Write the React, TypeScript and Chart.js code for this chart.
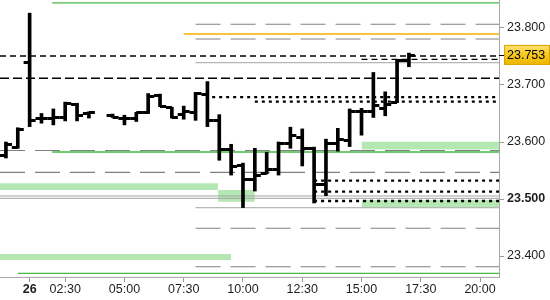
import React, { useEffect, useRef } from 'react';
import { Chart, registerables } from 'chart.js';

Chart.register(...registerables);

// ---- data ----
const barTimes = [0, 0.5, 1, 1.5, 2, 2.5, 3, 3.5, 4.5, 5, 5.5, 6, 6.5, 7, 7.5, 8, 8.5, 9, 9.5, 10, 10.5, 11, 11.5, 12, 12.5, 13, 13.5, 14, 14.5, 15, 15.5, 16, 16.5, 17];
const opens = [23.577, 23.591, 23.740, 23.642, 23.642, 23.643, 23.667, 23.651,
  23.648, 23.642, 23.642, 23.652, 23.682, 23.661, 23.650, 23.653, 23.684, 23.639, 23.588, 23.560, 23.535, 23.546, 23.552, 23.599, 23.609, 23.589, 23.526, 23.598, 23.604, 23.655, 23.654, 23.660, 23.670, 23.743];
const highs = [23.600, 23.625, 23.826, 23.650, 23.658, 23.670, 23.668, 23.653,
  23.649, 23.647, 23.652, 23.685, 23.684, 23.661, 23.663, 23.687, 23.706, 23.648, 23.596, 23.563, 23.589, 23.582, 23.600, 23.626, 23.623, 23.591, 23.605, 23.624, 23.658, 23.659, 23.722, 23.688, 23.745, 23.756];
const lows = [23.572, 23.589, 23.627, 23.633, 23.630, 23.637, 23.637, 23.642,
  23.643, 23.630, 23.636, 23.650, 23.662, 23.642, 23.640, 23.638, 23.627, 23.568, 23.542, 23.485, 23.514, 23.544, 23.542, 23.589, 23.558, 23.493, 23.506, 23.584, 23.592, 23.612, 23.643, 23.646, 23.669, 23.732];
const closes = [23.596, 23.623, 23.639, 23.642, 23.643, 23.668, 23.647, 23.652,
  23.644, 23.642, 23.652, 23.681, 23.664, 23.643, 23.655, 23.686, 23.639, 23.588, 23.558, 23.535, 23.543, 23.552, 23.598, 23.612, 23.590, 23.526, 23.598, 23.605, 23.654, 23.654, 23.665, 23.667, 23.743, 23.753];

const X_MIN = -0.25;
const X_MAX = 20.8;
const Y_MIN = 23.3632;
const Y_MAX = 23.8491;

const xTickValues = [1, 2.5, 5, 7.5, 10, 12.5, 15, 17.5, 20];
const xTickLabels = ['26', '02:30', '05:00', '07:30', '10:00', '12:30', '15:00', '17:30', '20:00'];
const yTickValues = [23.4, 23.5, 23.6, 23.7, 23.8];

// horizontal levels
const levelValues = [23.8439, 23.8065, 23.7895, 23.7807, 23.7509, 23.7451, 23.7391, 23.7118, 23.6789, 23.6707, 23.5851, 23.5825, 23.5468, 23.5321, 23.5128, 23.5053, 23.5012, 23.4965, 23.4847, 23.4486, 23.3812, 23.3696];
const levelFrom = [1.95, 8.0, 7.5, 8.0, X_MIN, 15.0, 8.0, X_MIN, 8.7, 10.5, X_MIN, 1.95, X_MIN, 13.0, 13.0, X_MIN, X_MIN, 13.0, 8.0, 8.0, 8.0, 0.5];
const levelTo = levelValues.map(() => X_MAX);
const levelKinds = ['green', 'grayDash', 'orange', 'grayDash', 'blackDashShort', 'blackDashShort', 'graySolid', 'blackDashLong', 'dotted', 'dotted', 'grayDash', 'green', 'grayDash', 'dotted', 'dotted', 'graySolid', 'graySolid', 'dotted', 'graySolid', 'grayDash', 'grayDash', 'green'];

// zones (bands)
const zoneTop = [23.6005, 23.5275, 23.5158, 23.4982, 23.4035];
const zoneBottom = [23.5868, 23.5158, 23.4953, 23.4854, 23.3930];
const zoneFrom = [15.0, X_MIN, 8.95, 15.0, X_MIN];
const zoneTo = [X_MAX, 8.95, 10.5, X_MAX, 9.5];

const lastPrice = closes[closes.length - 1];

// ---- styles ----
const FONT = 'Liberation Sans';
const kindStyle: Record<string, { color: string; width: number; dash: number[] }> = {
  green: { color: '#46b946', width: 1.3, dash: [] },
  orange: { color: '#f5b000', width: 1.3, dash: [] },
  grayDash: { color: '#808080', width: 1.1, dash: [25, 10] },
  graySolid: { color: '#a4a4a4', width: 1, dash: [] },
  blackDashShort: { color: '#000000', width: 1.3, dash: [6, 4] },
  blackDashLong: { color: '#000000', width: 1.3, dash: [9, 4] },
  dotted: { color: '#000000', width: 2.3, dash: [3, 4] },
};
const ZONE_COLOR = 'rgb(181,231,178)';

const ohlcTicksPlugin = {
  id: 'ohlcTicks',
  afterDatasetsDraw(chart: any) {
    const meta = chart.getDatasetMeta(0);
    const y = chart.scales.y;
    const ctx = chart.ctx;
    ctx.save();
    ctx.beginPath();
    ctx.rect(chart.chartArea.left, chart.chartArea.top, chart.chartArea.right - chart.chartArea.left, chart.chartArea.bottom - chart.chartArea.top);
    ctx.clip();
    ctx.strokeStyle = '#000';
    ctx.lineWidth = 3;
    ctx.lineCap = 'butt';
    meta.data.forEach((bar: any, i: number) => {
      const x = bar.x;
      const yo = Math.round(y.getPixelForValue(opens[i])) + 0.5;
      const yc = Math.round(y.getPixelForValue(closes[i])) + 0.5;
      ctx.beginPath();
      ctx.moveTo(x - 6, yo);
      ctx.lineTo(x, yo);
      ctx.moveTo(x, yc);
      ctx.lineTo(x + 6, yc);
      ctx.stroke();
    });
    ctx.restore();
  },
};

const priceTagPlugin = {
  id: 'priceTag',
  afterDraw(chart: any) {
    const ctx = chart.ctx;
    const area = chart.chartArea;
    const py = chart.scales.y.getPixelForValue(lastPrice);
    const x0 = area.right + 5;
    const x1 = chart.width;
    const h = 20;
    ctx.save();
    const g = ctx.createLinearGradient(0, py - h / 2, 0, py + h / 2);
    g.addColorStop(0, '#ffe27a');
    g.addColorStop(0.5, '#f8c81c');
    g.addColorStop(1, '#eeb400');
    ctx.fillStyle = g;
    ctx.fillRect(x0, py - h / 2, x1 - x0, h);
    ctx.strokeStyle = '#d9a400';
    ctx.lineWidth = 1;
    ctx.strokeRect(x0 + 0.5, Math.round(py - h / 2) + 0.5, x1 - x0 - 1, h - 1);
    ctx.strokeStyle = '#000';
    ctx.beginPath();
    ctx.moveTo(area.right, Math.round(py) + 0.5);
    ctx.lineTo(area.right + 5, Math.round(py) + 0.5);
    ctx.stroke();
    ctx.fillStyle = '#000';
    ctx.font = `12.5px "${FONT}"`;
    ctx.textBaseline = 'middle';
    ctx.textAlign = 'left';
    ctx.fillText(lastPrice.toFixed(3), area.right + 8, py + 0.5);
    ctx.restore();
  },
};

export default function App() {
  const ref = useRef<HTMLCanvasElement | null>(null);

  useEffect(() => {
    if (!ref.current) return;

    const barDataset: any = {
      type: 'bar',
      data: barTimes.map((t, i) => ({ x: t, y: [lows[i], highs[i]] })),
      backgroundColor: '#000000',
      borderWidth: 0,
      barThickness: 3,
      order: 0,
    };

    const levelDatasets: any[] = levelValues.map((v, i) => {
      const st = kindStyle[levelKinds[i]];
      return {
        type: 'line',
        data: [{ x: levelFrom[i], y: v }, { x: levelTo[i], y: v }],
        borderColor: st.color,
        borderWidth: st.width,
        borderDash: st.dash,
        pointRadius: 0,
        fill: false,
        tension: 0,
        order: 1,
      };
    });

    const zoneDatasets: any[] = zoneTop.map((top, i) => ({
      type: 'line',
      data: [{ x: zoneFrom[i], y: top }, { x: zoneTo[i], y: top }],
      borderWidth: 0,
      borderColor: 'rgba(0,0,0,0)',
      backgroundColor: ZONE_COLOR,
      pointRadius: 0,
      fill: { value: zoneBottom[i] },
      tension: 0,
      order: 2,
    }));

    const chart = new Chart(ref.current, {
      type: 'bar',
      data: { datasets: [barDataset, ...levelDatasets, ...zoneDatasets] },
      options: {
        animation: false,
        responsive: false,
        events: [],
        layout: { padding: 0 },
        plugins: { legend: { display: false }, tooltip: { enabled: false } },
        scales: {
          x: {
            type: 'linear',
            min: X_MIN,
            max: X_MAX,
            offset: false,
            afterBuildTicks: (s: any) => { s.ticks = xTickValues.map((v) => ({ value: v })); },
            afterFit: (s: any) => { s.height = 23; s.paddingLeft = 0; s.paddingRight = 0; },
            grid: { offset: false, display: true, drawOnChartArea: false, drawTicks: true, tickLength: 5, color: '#9a9a9a' },
            border: { display: true, color: '#a8a8a8' },
            ticks: {
              autoSkip: false,
              maxRotation: 0,
              minRotation: 0,
              padding: 0,
              color: '#1e1e1e',
              callback: (_v: any, i: number) => xTickLabels[i],
              font: (c: any) => ({ family: FONT, size: 12.5, weight: c.index === 0 ? 'bold' : 'normal' }),
            },
          },
          y: {
            type: 'linear',
            position: 'right',
            min: Y_MIN,
            max: Y_MAX,
            afterBuildTicks: (s: any) => { s.ticks = yTickValues.map((v) => ({ value: v })); },
            afterFit: (s: any) => { s.width = 51; s.paddingTop = 0; s.paddingBottom = 0; },
            grid: { display: true, drawOnChartArea: false, drawTicks: true, tickLength: 5, color: '#9a9a9a' },
            border: { display: true, color: '#a8a8a8' },
            ticks: {
              padding: 3,
              color: '#1e1e1e',
              callback: (v: any) => Number(v).toFixed(3),
              font: (c: any) => ({ family: FONT, size: 12.5, weight: c.tick && Math.abs(c.tick.value - 23.5) < 1e-6 ? 'bold' : 'normal' }),
            },
          },
        },
      } as any,
      plugins: [ohlcTicksPlugin, priceTagPlugin],
    });

    return () => chart.destroy();
  }, []);

  return (
    <div style={{ position: 'absolute', left: 0, top: 0, width: 550, height: 300, background: '#fff' }}>
      <canvas ref={ref} width={550} height={300} />
    </div>
  );
}
